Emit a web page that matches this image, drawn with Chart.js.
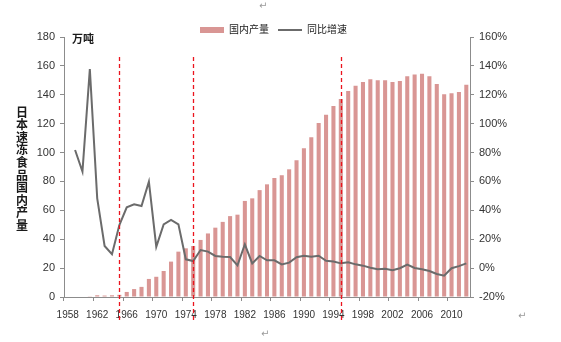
<!DOCTYPE html>
<html>
<head>
<meta charset="utf-8">
<script src="https://cdn.jsdelivr.net/npm/chart.js@4"></script>
<style>
  body { margin: 0; background: #fff; }
  canvas { display: block; }
</style>
</head>
<body>
<canvas id="output_chart" width="561" height="342"></canvas>
<script>
const years = [
    '1958', '1959', '1960', '1961', '1962', '1963', '1964', '1965', '1966', '1967',
    '1968', '1969', '1970', '1971', '1972', '1973', '1974', '1975', '1976', '1977',
    '1978', '1979', '1980', '1981', '1982', '1983', '1984', '1985', '1986', '1987',
    '1988', '1989', '1990', '1991', '1992', '1993', '1994', '1995', '1996', '1997',
    '1998', '1999', '2000', '2001', '2002', '2003', '2004', '2005', '2006', '2007',
    '2008', '2009', '2010', '2011', '2012'
];

// 国内产量 (万吨)
const output = [
    0, 0, 0, 0.5, 1.2, 1.0, 1.2, 1.5, 3.5, 5.5,
    7, 12.5, 14, 18, 24.5, 31.4, 33.7, 35.3, 39.5, 44,
    48, 52, 56, 57, 66.5, 68.3, 74, 78, 82.4, 84.3,
    88.4, 94.6, 103, 110.6, 120.5, 126.2, 132.2, 137, 142.7, 146.3,
    148.8, 150.7, 150, 150, 148.8, 149.5, 152.8, 154, 154.6, 152.8,
    147.5, 140.3, 141, 142, 147
];

// 同比增速 (%)
const growth = [
    null, 81.8, 66.8, 137.8, 48.3, 15.3, 9.6, 29.8, 42.1, 44.2,
    43, 59.8, 14.8, 30.3, 33.3, 30.3, 6.1, 4.9, 12.5, 11.4,
    8.4, 7.9, 7.7, 1.9, 16.5, 3.3, 8.4, 5.4, 5.4, 2.6,
    3.8, 7.5, 8.6, 7.9, 8.6, 5.1, 4.6, 3.3, 4.0, 2.6,
    1.7, 0.3, -0.8, -0.4, -1.5, -0.1, 2.4, 0.1, -0.8, -2.0,
    -4.1, -5.3, -0.1, 1.4, 3.3
];

// years marked with red dashed dividers
const phaseYears = ['1965', '1975', '1995'];

const yTitle = '日本速冻食品国内产量';
const unitLabel = '万吨';

const FONT = '"Liberation Sans", Arial, "Noto Sans CJK SC", sans-serif';
const AXIS_GREY = '#8c8c8c';

const extras = {
    id: 'extras',
    afterLayout(chart) {
        // push the legend row down a little, closer to the plot
        chart.legend.top += 8;
        chart.legend.bottom += 8;
    },
    afterDatasetsDraw(chart) {
        const ctx = chart.ctx;
        const x = chart.scales.x;
        const area = chart.chartArea;
        ctx.save();
        ctx.strokeStyle = 'rgb(235, 20, 30)';
        ctx.lineWidth = 1.3;
        ctx.setLineDash([4, 3]);
        phaseYears.forEach(yr => {
            const px = Math.round(x.getPixelForValue(years.indexOf(yr))) + 0.5;
            ctx.beginPath();
            ctx.moveTo(px, area.top + 20);
            ctx.lineTo(px, area.bottom + 23);
            ctx.stroke();
        });
        ctx.restore();
    },
    afterDraw(chart) {
        const ctx = chart.ctx;
        const area = chart.chartArea;
        ctx.save();
        ctx.fillStyle = '#1a1a1a';
        ctx.textAlign = 'center';
        ctx.textBaseline = 'middle';
        ctx.font = 'bold 12px "Noto Sans CJK SC", sans-serif';
        [...yTitle].forEach((ch, i) => ctx.fillText(ch, 22, 112 + i * 12.6));

        ctx.textAlign = 'left';
        ctx.font = 'bold 11px "Noto Sans CJK SC", sans-serif';
        ctx.fillText(unitLabel, area.left + 8, area.top + 2);

        ctx.fillStyle = '#9a9a9a';
        ctx.font = '10px "DejaVu Sans", sans-serif';
        ctx.fillText('↵', 259, 6);
        ctx.fillText('↵', 261, 334);
        ctx.fillText('↵', 518, 316);
        ctx.restore();
    }
};

new Chart(document.getElementById('output_chart'), {
    type: 'bar',
    data: {
        labels: years,
        datasets: [{
            label: '国内产量',
            data: output,
            backgroundColor: '#d99694',
            borderWidth: 0,
            barPercentage: 0.55,
            categoryPercentage: 1,
            yAxisID: 'y',
            pointStyle: 'rect',
            order: 1
        }, {
            type: 'line',
            label: '同比增速',
            data: growth,
            borderColor: '#6b6b6b',
            backgroundColor: '#6b6b6b',
            borderWidth: 2,
            pointRadius: 0,
            tension: 0,
            yAxisID: 'y1',
            pointStyle: 'line',
            order: 0
        }]
    },
    options: {
        responsive: false,
        animation: false,
        layout: { padding: { top: 8, right: 14, left: 0, bottom: 0 } },
        plugins: {
            legend: {
                position: 'top',
                labels: {
                    usePointStyle: true,
                    pointStyleWidth: 24,
                    boxHeight: 6,
                    padding: 9,
                    color: '#1a1a1a',
                    font: { family: FONT, size: 10 },
                    sort: (a, b) => a.datasetIndex - b.datasetIndex
                }
            },
            tooltip: { enabled: false }
        },
        scales: {
            x: {
                grid: {
                    drawOnChartArea: false,
                    tickLength: 4,
                    color: ctx => (ctx.index % 4 === 0 ? AXIS_GREY : 'rgba(0,0,0,0)')
                },
                border: { color: AXIS_GREY },
                ticks: {
                    autoSkip: false,
                    maxRotation: 0,
                    padding: 8,
                    color: '#333',
                    font: { family: FONT, size: 10 },
                    callback: (v, i) => (i % 4 === 0 ? years[i] : '')
                },
                afterFit: s => { s.height = 45; }
            },
            y: {
                position: 'left',
                min: 0,
                max: 180,
                ticks: {
                    stepSize: 20,
                    padding: 5,
                    color: '#333',
                    font: { family: FONT, size: 11 }
                },
                grid: { drawOnChartArea: false, tickLength: 4, color: AXIS_GREY },
                border: { color: AXIS_GREY },
                afterFit: s => { s.width = 64; }
            },
            y1: {
                position: 'right',
                min: -20,
                max: 160,
                ticks: {
                    stepSize: 20,
                    padding: 5,
                    color: '#333',
                    font: { family: FONT, size: 11 },
                    callback: v => v + '%'
                },
                grid: { drawOnChartArea: false, tickLength: 4, color: AXIS_GREY },
                border: { color: AXIS_GREY },
                afterFit: s => { s.width = 77; }
            }
        }
    },
    plugins: [extras]
});
</script>
</body>
</html>
